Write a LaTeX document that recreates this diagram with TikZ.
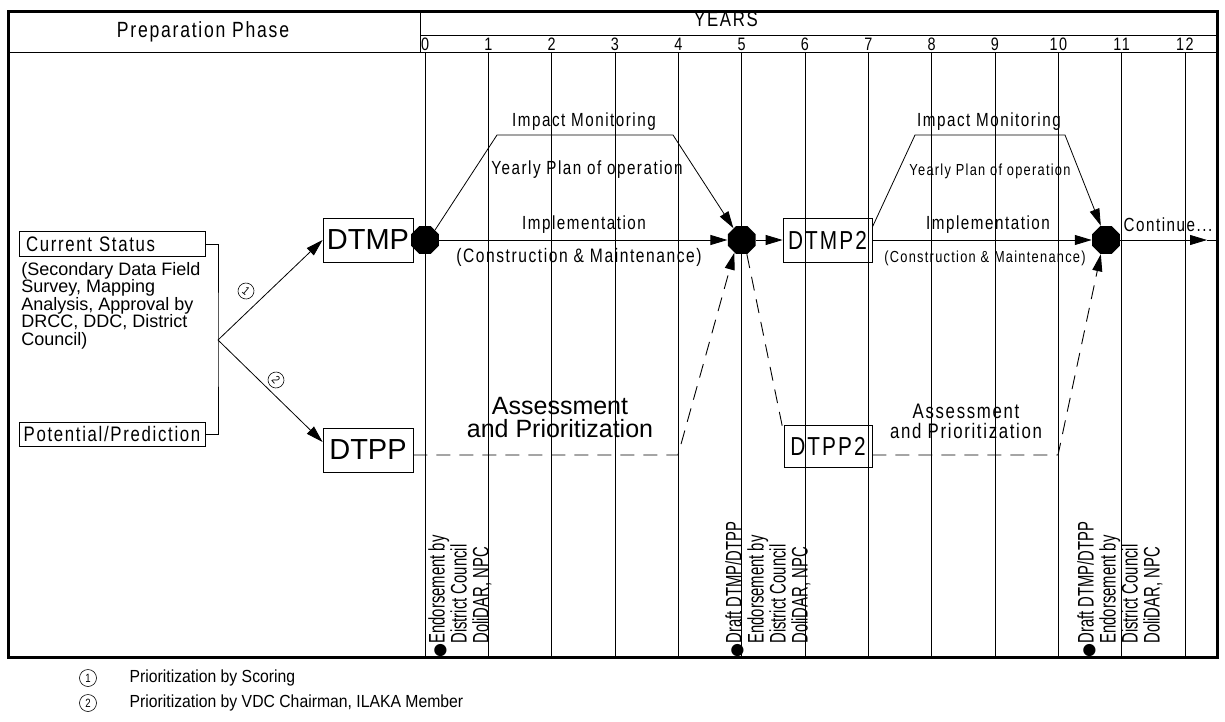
\documentclass[tikz,border=0pt]{standalone}
\usepackage{fontspec}
\setmainfont{Liberation Sans}
\newfontfamily\narrowfont[FakeStretch=0.8,LetterSpace=8]{Liberation Sans}
\newfontfamily\squeezefont[FakeStretch=0.66]{Liberation Sans}
\newfontfamily\notefont[FakeStretch=0.9]{Liberation Sans}
\newfontfamily\symbfont{DejaVu Sans}
\usetikzlibrary{arrows.meta,shapes.geometric}
\newcommand{\setfs}[2]{\fontsize{#1}{#2}\selectfont}

\begin{document}
\begin{tikzpicture}[x=1pt,y=-1pt,line width=0.8pt,
    box/.style={draw,inner sep=0pt,minimum height=44pt},
    stopmark/.style={regular polygon,regular polygon sides=8,fill=black,minimum size=30pt,inner sep=0pt},
    flow/.style={-{Triangle[length=17pt,width=10pt]}},
    dashes/.style={line width=0.9pt,dash pattern=on 14pt off 9pt},
    yearline/.style={line width=0.6pt},
    narrow/.style={font=\narrowfont\setfs{#1}{#1}},
    circnum/.style={draw,circle,line width=0.6pt,inner sep=0pt,minimum size=#1,font=\narrowfont\setfs{12}{12}},
    vlabel/.style={rotate=90,anchor=north west,align=left,inner sep=0pt,font=\squeezefont\setfs{22.5}{22}}]
    \useasboundingbox (0,0) rectangle (1225,722);
    \draw[line width=3pt] (8,12) rectangle (1217,657);
    \draw (8,52) -- (1217,52);
    \draw (420,12) -- (420,52);
    \draw (420,35) -- (1217,35);
    \node[narrow=22] (prep) at (203,32) {Preparation Phase};
    \node[narrow=21] (years) at (726,19) {YEARS};
    \foreach \k in {0,...,12} {
        \draw[yearline] (425+63.33*\k,52) -- (425+63.33*\k,657);
        \node[narrow=18] (y\k) at (425+63.33*\k,44) {\k};
    }
    \node[box,minimum width=186pt,minimum height=25pt,text width=172pt,align=left,narrow=21] (cs) at (112,244) {Current Status};
    \node[box,minimum width=186pt,minimum height=24pt,narrow=21] (pp) at (112,434) {Potential/Prediction};
    \node[anchor=north west,align=left,inner sep=0pt,font=\setfs{18}{17.4}] (sec) at (21,262)
        {(Secondary Data Field\\Survey, Mapping\\Analysis, Approval by\\DRCC, DDC, District\\Council)};
    \coordinate (fork) at (218,340);
    \node[box,minimum width=90pt,font=\setfs{29}{29}] (dtmp) at (368,240) {DTMP};
    \node[box,minimum width=90pt,font=\setfs{29}{29}] (dtpp) at (368,450) {DTPP};
    \node[stopmark] (m0) at (425,240) {};
    \node[stopmark] (m5) at (741.67,240) {};
    \node[stopmark] (m10) at (1106,240) {};
    \node[box,minimum width=89pt,narrow=26] (dtmp2) at (827.5,240) {DTMP2};
    \node[box,minimum width=88pt,minimum height=42pt,narrow=26] (dtpp2) at (828,446) {DTPP2};
    \node[circnum=16pt,rotate=-40] (c1) at (246,291) {1};
    \node[circnum=16pt,rotate=-50] (c2) at (276,380) {2};
    \draw (cs.east) -| (fork) |- (pp.east);
    \draw[flow] (fork) -- (dtmp.west);
    \draw[flow] (fork) -- ([yshift=8pt]dtpp.west);
    % first cycle
    \coordinate (ta) at (497,135); \coordinate (tb) at (673,135);
    \coordinate (da) at (678,455);
    \draw[flow] (m0.east) -- (m5.west);
    \draw[flow] (m0.north east) -- (ta) -- (tb) -- (m5.125);
    \draw[flow,dashes] ([yshift=-5pt]dtpp.east) -- (da) -- (m5.240);
    \node[narrow=19] (im1) at (584,122) {Impact Monitoring};
    \node[narrow=19] (yp1) at (587,170) {Yearly Plan of operation};
    \node[narrow=19] (imp1) at (584,225) {Implementation};
    \node[narrow=19.5] (con1) at (579,257) {(Construction \& Maintenance)};
    \node[align=center,font=\setfs{25}{23}] (as1) at (560,418) {Assessment\\and Prioritization};
    % second cycle
    \coordinate (tc) at (915,135); \coordinate (td) at (1065,135);
    \coordinate (db) at (1058,455);
    \coordinate (cont) at (1207,240); \coordinate (edge) at (1217,240);
    \draw[flow] (m5.east) -- (dtmp2.west);
    \draw[flow] (dtmp2.east) -- (m10.west);
    \draw[flow] (m10.east) -- (cont); \draw (cont) -- (edge);
    \draw[flow] ([yshift=13pt]dtmp2.east) -- (tc) -- (td) -- (m10.110);
    \draw[dashes] (m5.290) -- ([yshift=-8pt]dtpp2.north west);
    \draw[flow,dashes] ([yshift=-9pt]dtpp2.east) -- (db) -- (m10.250);
    \node[narrow=19] (im2) at (989,122) {Impact Monitoring};
    \node[narrow=16] (yp2) at (990,171) {Yearly Plan of operation};
    \node[narrow=19] (imp2) at (988,225) {Implementation};
    \node[narrow=16] (con2) at (985,258) {(Construction \& Maintenance)};
    \node[narrow=19] (go) at (1168,225) {Continue...};
    \node[align=center,font=\narrowfont\setfs{21}{20}] (as2) at (966,421) {Assessment\\and Prioritization};
    % endorsements
    \node[vlabel] (v0) at (428,644) {\llap{\symbfont\setfs{16}{16}●}Endorsement by\\District Council\\DoliDAR, NPC};
    \node[vlabel] (v5) at (725,644) {\llap{\symbfont\setfs{16}{16}●}Draft DTMP/DTPP\\Endorsement by\\District Council\\DoliDAR, NPC};
    \node[vlabel] (v10) at (1077,644) {\llap{\symbfont\setfs{16}{16}●}Draft DTMP/DTPP\\Endorsement by\\District Council\\DoliDAR, NPC};
    % notes
    \node[circnum=17pt] (n1) at (88,678) {1};
    \node[circnum=17pt] (n2) at (88,703) {2};
    \node[anchor=west,font=\notefont\setfs{17.5}{17.5}] (n1t) at (126,678) {Prioritization by Scoring};
    \node[anchor=west,font=\notefont\setfs{17.5}{17.5}] (n2t) at (126,703) {Prioritization by VDC Chairman, ILAKA Member};
\end{tikzpicture}
\end{document}
